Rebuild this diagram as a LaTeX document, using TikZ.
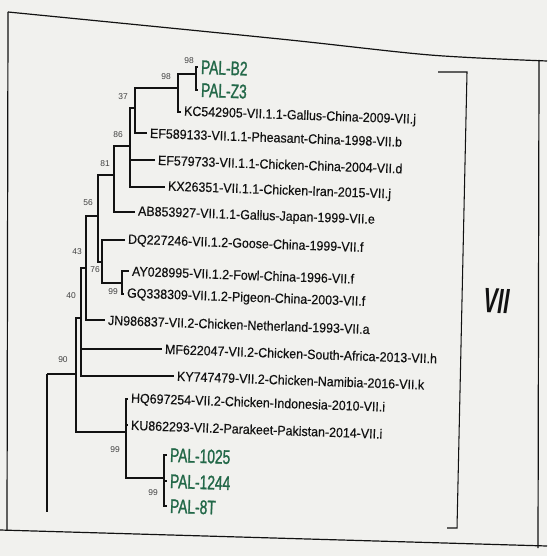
\documentclass[tikz,border=0pt]{standalone}
\usepackage{fontspec}
\setmainfont{Liberation Sans}
\newfontfamily\hojafont[FakeStretch=0.93, FakeBold=0.4]{Liberation Sans}
\newfontfamily\palfont[FakeStretch=0.7, FakeBold=1.2]{Liberation Sans}
\newfontfamily\grupofont[FakeStretch=0.6]{Liberation Sans}

\definecolor{verdepal}{RGB}{34,104,72}
\definecolor{papel}{RGB}{241,241,238}
\definecolor{tinta}{RGB}{18,18,18}

\tikzset{
  rama/.style={line width=1.4pt, draw=tinta},
  marco/.style={line width=0.85pt, draw=tinta},
  llave/.style={line width=0.75pt, draw=tinta},
  hoja/.style={anchor=west, inner sep=2pt, rotate=-2, text=tinta,
    font=\hojafont\fontsize{9.5}{10}\selectfont},
  cepa/.style={hoja, text=verdepal, font=\palfont\fontsize{14}{15}\selectfont},
  boot/.style={inner sep=0pt, text=tinta!80, font=\fontsize{6}{6}\selectfont},
  grupo/.style={inner sep=0pt, rotate=-2, text=tinta,
    font=\grupofont\bfseries\itshape\fontsize{25}{25}\selectfont},
}

\begin{document}
\begin{tikzpicture}[x=0.025cm, y=-0.025cm]
  \useasboundingbox (0,0) rectangle (547,556);
  % el papel y el marco
  \fill[papel] (0,0) rectangle (547,556);
  \draw[marco] plot[smooth] coordinates {(8,12) (280,39) (430,55) (547,61)};
  \draw[marco] (8,12) -- (7,530);
  \draw[marco] (0,530) -- (547,546);
  \draw[marco] (539,60) -- (538,548);

  % las hojas
  \node[cepa] (b2) at (198,67) {PAL-B2};
  \node[cepa] (z3) at (198,90) {PAL-Z3};
  \node[hoja] (kc) at (181,112) {KC542905-VII.1.1-Gallus-China-2009-VII.j};
  \node[hoja] (ef1) at (147,133) {EF589133-VII.1.1-Pheasant-China-1998-VII.b};
  \node[hoja] (ef2) at (155,160) {EF579733-VII.1.1-Chicken-China-2004-VII.d};
  \node[hoja] (kx) at (165,187) {KX26351-VII.1.1-Chicken-Iran-2015-VII.j};
  \node[hoja] (ab) at (135,212) {AB853927-VII.1.1-Gallus-Japan-1999-VII.e};
  \node[hoja] (dq) at (125,240) {DQ227246-VII.1.2-Goose-China-1999-VII.f};
  \node[hoja] (ay) at (129,271) {AY028995-VII.1.2-Fowl-China-1996-VII.f};
  \node[hoja] (gq) at (124,294) {GQ338309-VII.1.2-Pigeon-China-2003-VII.f};
  \node[hoja] (jn) at (105,320) {JN986837-VII.2-Chicken-Netherland-1993-VII.a};
  \node[hoja] (mf) at (162,349) {MF622047-VII.2-Chicken-South-Africa-2013-VII.h};
  \node[hoja] (ky) at (174,376) {KY747479-VII.2-Chicken-Namibia-2016-VII.k};
  \node[hoja] (hq) at (128,399) {HQ697254-VII.2-Chicken-Indonesia-2010-VII.i};
  \node[hoja] (ku) at (128,425) {KU862293-VII.2-Parakeet-Pakistan-2014-VII.i};
  \node[cepa] (p1025) at (167,455) {PAL-1025};
  \node[cepa] (p1244) at (167,481) {PAL-1244};
  \node[cepa] (p8t) at (167,506) {PAL-8T};

  % los nudos
  \coordinate (nA) at (196,74);
  \coordinate (nB) at (178,88);
  \coordinate (n37) at (135,108);
  \coordinate (n86) at (130,146);
  \coordinate (n81) at (114,175);
  \coordinate (n99a) at (122,283);
  \coordinate (n76) at (102,262);
  \coordinate (n56) at (98,216);
  \coordinate (n43) at (86,268);
  \coordinate (n40) at (81,318);
  \coordinate (n99c) at (164,478);
  \coordinate (n99b) at (126,432);
  \coordinate (n90) at (76,374);
  \coordinate (raiz) at (47,374);
  \coordinate (raizfin) at (47,512);

  % las ramas
  \draw[rama] (nA) |- (b2.west) (nA) |- (z3.west);
  \draw[rama] (nB) |- (nA) (nB) |- (kc.west);
  \draw[rama] (n37) |- (nB) (n37) |- (ef1.west);
  \draw[rama] (n86) |- (n37) (n86) |- (ef2.west) (n86) |- (kx.west);
  \draw[rama] (n81) |- (n86) (n81) |- (ab.west);
  \draw[rama] (n99a) |- (ay.west) (n99a) |- (gq.west);
  \draw[rama] (n76) |- (dq.west) (n76) |- (n99a);
  \draw[rama] (n56) |- (n81) (n56) |- (n76);
  \draw[rama] (n43) |- (n56) (n43) |- (jn.west);
  \draw[rama] (n40) |- (n43) (n40) |- (mf.west) (n40) |- (ky.west);
  \draw[rama] (n99c) |- (p1025.west) (n99c) |- (p1244.west) (n99c) |- (p8t.west);
  \draw[rama] (n99b) |- (hq.west) (n99b) |- (ku.west) (n99b) |- (n99c);
  \draw[rama] (n90) |- (n40) (n90) |- (n99b);
  \draw[rama] (raiz) -- (n90) (raiz) -- (raizfin);

  % los valores de bootstrap
  \node[boot] (tA) at (189,61) {98};
  \node[boot] (tB) at (166,77) {98};
  \node[boot] (t37) at (123,97) {37};
  \node[boot] (t86) at (118,135) {86};
  \node[boot] (t81) at (105,164) {81};
  \node[boot] (t56) at (88,203) {56};
  \node[boot] (t43) at (77,252) {43};
  \node[boot] (t76) at (95,270) {76};
  \node[boot] (t99a) at (113,292) {99};
  \node[boot] (t40) at (71,296) {40};
  \node[boot] (t90) at (63,360) {90};
  \node[boot] (t99b) at (115,450) {99};
  \node[boot] (t99c) at (153,493) {99};

  % el grupo
  \draw[llave] (438,72) -- (467,72) -- (457,528) -- (447,528);
  \node[grupo] (vii) at (497,301) {VII};
\end{tikzpicture}
\end{document}
